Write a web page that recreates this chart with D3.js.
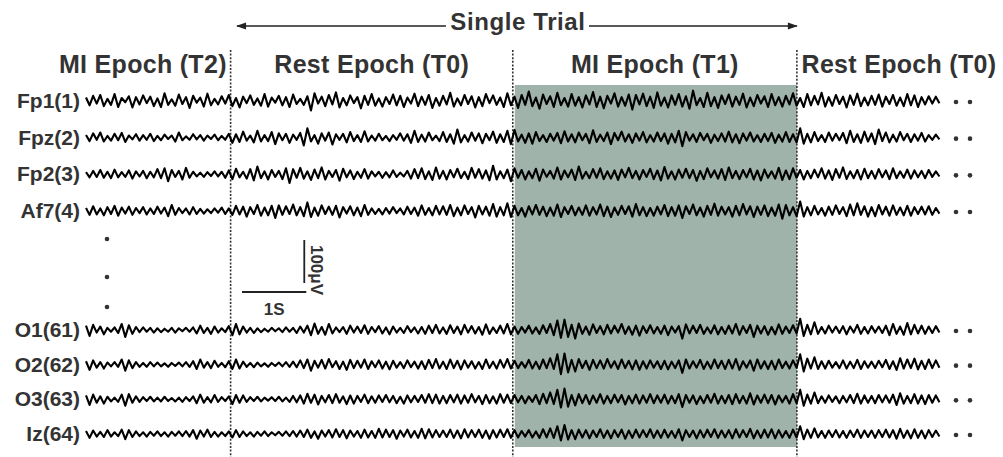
<!DOCTYPE html>
<html>
<head>
<meta charset="utf-8">
<script src="https://cdn.jsdelivr.net/npm/d3@7"></script>
<style>
  body { margin: 0; background: #fff; }
  svg { display: block; font-family: "Liberation Sans", Arial, sans-serif; }
</style>
</head>
<body>
<div id="chart"></div>
<script>
// channel names, top group and bottom group
const topChannels = ['Fp1(1)', 'Fpz(2)', 'Fp2(3)', 'Af7(4)'];
const bottomChannels = ['O1(61)', 'O2(62)', 'O3(63)', 'Iz(64)'];

// epochs: label and [start, end] in seconds
const epochLabels = ['MI Epoch (T2)', 'Rest Epoch (T0)', 'MI Epoch (T1)', 'Rest Epoch (T0)'];
const epochBounds = [[-0.48, 2.25], [2.25, 6.64], [6.64, 11.06], [11.06, 14.26]];
const shadedEpoch = 2;
const trialSpan = [2.35, 11.06];

const FS = 18; // samples per second (as drawn)

// EEG traces in µV (20 samples per row)
const fp1 = [
  8,-10,12,-6,14,-12,5,-9,16,-14,7,-3,11,-15,9,-8,13,-5,10,-12,
  6,-14,18,-9,4,-11,15,-7,9,-16,12,-4,8,-13,17,-10,5,-8,11,-6,
  14,-12,7,-15,10,-5,13,-9,6,-11,16,-13,8,-4,12,-10,9,-14,15,-7,
  5,-9,11,-22,18,-6,10,-12,14,-8,20,-15,7,-10,13,-5,9,-17,12,-9,
  16,-11,6,-13,9,-7,15,-10,12,-14,8,-6,17,-12,10,-9,14,-16,7,-11,
  12,-8,19,-13,6,-10,14,-7,11,-15,9,-12,16,-5,13,-9,8,-14,18,-10,
  10,-16,14,-9,22,-12,8,-18,15,-7,11,-14,19,-10,7,-13,16,-11,9,-15,
  13,-8,21,-14,10,-17,12,-6,18,-13,9,-11,15,-20,14,-8,17,-12,10,-16,
  20,-11,8,-15,13,-9,16,-13,11,-18,24,-10,7,-14,19,-12,9,-16,13,-7,
  15,-13,10,-9,17,-15,8,-12,14,-6,11,-14,16,-10,9,-13,12,-8,18,-11,
  7,-14,16,-10,12,-8,19,-13,9,-11,14,-7,10,-15,13,-9,17,-12,8,-10,
  12,-9,15,-13,10,-7,14,-11,8,-12,16,-10,13,-14,9,-8,11,-6,10,-5
];
const fpz = [
  6,-8,10,-5,12,-9,4,-7,9,-6,11,-10,5,-4,8,-7,6,-5,9,-8,
  4,-6,7,-3,5,-9,12,-6,3,-5,8,-4,6,-7,5,-3,7,-6,4,-5,
  9,-12,8,-10,14,-7,5,-11,16,-9,6,-8,13,-15,10,-6,9,-12,7,-5,
  11,-18,22,-9,6,-14,10,-7,12,-16,8,-5,9,-11,13,-8,6,-10,15,-9,
  5,-7,9,-6,4,-8,6,-5,10,-7,8,-12,16,-10,7,-9,12,-6,5,-8,
  13,-10,8,-14,19,-11,6,-9,12,-7,10,-13,9,-6,14,-12,8,-10,16,-15,
  18,-9,7,-12,10,-14,13,-8,6,-10,9,-7,11,-13,15,-9,8,-11,12,-6,
  9,-13,17,-10,7,-8,12,-15,11,-6,14,-9,8,-12,10,-7,13,-11,6,-9,
  12,-8,10,-14,9,-11,16,-20,13,-7,8,-10,11,-6,9,-12,7,-8,10,-9,
  14,-11,8,-13,10,-7,12,-9,6,-10,9,-8,11,-12,7,-9,13,-10,8,-11,
  22,-14,9,-11,13,-8,6,-10,12,-7,9,-6,11,-13,16,-10,8,-12,14,-9,
  10,-15,19,-8,12,-11,7,-9,13,-6,9,-10,8,-7,11,-9,6,-5,7,-4
];
const fp2 = [
  5,-7,8,-6,10,-8,6,-9,11,-7,5,-6,9,-10,7,-5,8,-9,6,-7,
  12,-9,14,-16,10,-6,8,-12,15,-8,6,-5,4,-6,5,-4,7,-5,6,-8,
  9,-11,13,-7,6,-10,12,-14,18,-9,7,-12,10,-6,8,-11,14,-20,12,-8,
  15,-10,7,-13,11,-9,16,-12,8,-6,10,-15,13,-7,9,-11,6,-8,12,-10,
  7,-5,6,-8,5,-7,9,-6,4,-5,8,-10,12,-9,14,-11,7,-13,16,-10,
  8,-12,10,-7,13,-9,6,-11,15,-8,12,-10,9,-14,20,-12,7,-9,11,-16,
  14,-8,10,-12,7,-9,13,-15,11,-6,8,-10,16,-12,9,-7,11,-13,18,-10,
  6,-9,12,-8,14,-11,7,-10,9,-13,11,-7,15,-9,8,-12,10,-6,13,-11,
  9,-14,17,-10,7,-12,11,-8,13,-9,10,-15,8,-11,14,-7,9,-10,12,-13,
  16,-9,8,-11,10,-7,13,-12,9,-14,11,-8,7,-10,15,-13,9,-11,14,-8,
  10,-12,8,-9,11,-7,14,-10,9,-13,12,-8,16,-11,7,-9,10,-12,13,-9,
  8,-10,12,-7,9,-11,14,-9,7,-8,11,-10,9,-7,8,-9,10,-6,7,-5
];
const af7 = [
  7,-9,11,-8,6,-10,9,-7,12,-11,8,-6,10,-9,7,-5,9,-8,6,-7,
  10,-6,8,-12,14,-9,7,-5,6,-8,9,-7,5,-6,4,-5,6,-4,8,-7,
  6,-9,12,-8,10,-13,9,-7,14,-11,8,-10,12,-16,13,-9,11,-7,15,-10,
  9,-12,20,-14,8,-11,13,-7,10,-9,12,-15,9,-6,11,-10,8,-12,14,-9,
  6,-7,5,-8,7,-6,9,-5,6,-8,10,-7,8,-11,13,-9,7,-10,12,-8,
  11,-9,14,-12,8,-10,13,-7,9,-15,12,-8,10,-11,16,-13,9,-10,18,-14,
  12,-10,7,-13,11,-8,14,-9,10,-12,8,-11,15,-14,9,-7,12,-10,8,-9,
  13,-11,9,-8,15,-12,10,-14,8,-9,12,-7,11,-13,16,-10,9,-12,7,-11,
  10,-8,14,-12,9,-11,13,-16,11,-7,15,-10,8,-13,12,-9,17,-11,10,-8,
  9,-13,12,-10,16,-8,11,-14,10,-9,13,-12,8,-11,15,-18,14,-10,9,-12,
  22,-13,9,-10,12,-8,7,-11,10,-9,13,-7,9,-12,15,-10,18,-9,11,-13,
  9,-12,14,-8,10,-11,13,-9,8,-10,12,-11,9,-7,10,-8,11,-9,7,-6
];
const o1 = [
  10,-14,12,-6,8,-10,5,-4,6,-7,14,-16,11,-9,7,-5,6,-4,5,-6,
  4,-5,3,-4,5,-6,4,-3,5,-4,6,-8,10,-7,5,-9,8,-6,4,-5,
  9,-12,14,-10,8,-6,5,-7,4,-5,3,-4,5,-3,4,-5,6,-4,5,-7,
  8,-6,10,-12,15,-9,7,-11,14,-8,6,-5,7,-9,10,-6,8,-7,11,-9,
  7,-5,9,-8,6,-10,8,-6,5,-7,9,-5,6,-8,7,-9,10,-7,12,-8,
  6,-9,11,-7,8,-10,12,-6,9,-8,7,-11,13,-9,6,-7,10,-8,14,-10,
  8,-9,7,-6,10,-8,6,-9,11,-7,14,-12,22,-18,24,-16,12,-20,15,-9,
  8,-11,13,-7,9,-10,12,-8,10,-6,14,-9,8,-11,10,-13,9,-7,11,-8,
  7,-9,10,-12,8,-6,9,-20,13,-8,10,-7,12,-9,6,-8,11,-10,7,-9,
  10,-8,14,-11,9,-7,12,-16,10,-8,9,-11,7,-10,13,-9,8,-7,11,-8,
  26,-14,12,-10,18,-9,7,-8,10,-6,8,-7,9,-10,8,-6,12,-9,7,-8,
  9,-6,8,-7,10,-12,14,-9,8,-11,16,-10,12,-8,10,-9,8,-7,9,-6
];
const o2 = [
  8,-12,10,-7,6,-9,5,-4,6,-5,12,-14,10,-8,6,-5,4,-5,6,-4,
  5,-4,3,-5,4,-3,5,-4,6,-5,8,-10,12,-7,6,-8,9,-5,4,-6,
  8,-10,12,-9,7,-5,4,-6,5,-4,3,-5,4,-3,5,-4,6,-5,7,-6,
  10,-8,12,-14,9,-7,11,-9,13,-6,8,-10,7,-12,11,-8,9,-7,12,-10,
  8,-6,10,-9,7,-11,9,-7,6,-8,10,-6,7,-9,8,-10,11,-8,13,-9,
  7,-10,12,-8,9,-11,10,-7,8,-9,6,-10,12,-8,7,-9,11,-7,13,-9,
  9,-8,6,-7,11,-9,7,-10,12,-8,15,-10,24,-22,26,-18,11,-16,13,-8,
  9,-12,11,-8,10,-9,13,-7,8,-10,12,-8,9,-11,10,-12,8,-9,10,-7,
  8,-10,9,-11,7,-8,10,-19,12,-9,8,-7,11,-10,7,-9,12,-8,9,-10,
  11,-9,13,-12,8,-7,10,-14,12,-9,8,-10,9,-11,12,-8,7,-9,10,-7,
  24,-16,14,-9,17,-10,8,-9,9,-7,6,-8,10,-9,7,-8,11,-10,8,-7,
  7,-8,9,-6,11,-10,8,-12,15,-9,12,-8,14,-11,9,-10,12,-8,10,-7
];
const o3 = [
  9,-13,11,-8,7,-10,6,-5,4,-6,11,-15,12,-8,7,-6,5,-4,6,-5,
  4,-5,6,-4,3,-5,4,-6,5,-4,7,-9,11,-8,5,-7,10,-6,5,-4,
  7,-11,10,-8,9,-6,5,-4,6,-5,4,-3,5,-4,6,-5,4,-6,8,-7,
  9,-10,13,-8,11,-12,8,-7,10,-9,12,-8,7,-11,9,-10,8,-6,11,-9,
  7,-8,9,-6,10,-7,8,-9,6,-10,9,-7,8,-6,10,-8,12,-9,11,-10,
  8,-9,10,-7,11,-10,9,-8,12,-7,8,-11,10,-9,7,-10,12,-8,11,-9,
  10,-7,8,-9,7,-6,10,-11,13,-9,16,-11,22,-19,25,-17,10,-14,12,-9,
  10,-11,9,-8,12,-10,8,-9,11,-7,10,-12,8,-9,11,-10,9,-8,12,-9,
  9,-8,11,-10,8,-9,12,-18,10,-8,9,-11,7,-9,10,-8,13,-10,8,-9,
  10,-11,12,-9,8,-10,14,-12,9,-8,11,-9,10,-12,9,-7,8,-10,12,-9,
  22,-15,11,-10,16,-9,7,-8,9,-6,7,-9,8,-7,10,-9,13,-10,9,-8,
  8,-9,10,-7,9,-8,11,-13,14,-10,8,-9,12,-10,9,-11,10,-8,9,-7
];
const iz = [
  7,-9,8,-6,5,-7,9,-6,4,-5,10,-12,9,-7,6,-5,4,-6,5,-4,
  6,-5,4,-6,5,-4,6,-5,7,-6,9,-11,8,-6,10,-7,5,-6,4,-5,
  6,-8,9,-7,6,-5,4,-6,5,-4,6,-5,4,-3,5,-4,6,-5,7,-6,
  8,-7,10,-9,6,-11,8,-6,9,-8,11,-7,9,-10,8,-6,7,-9,10,-8,
  7,-9,12,-8,10,-7,9,-11,8,-6,10,-8,7,-9,12,-10,11,-8,9,-7,
  8,-7,10,-9,8,-10,11,-8,9,-7,10,-9,8,-11,9,-8,10,-7,11,-9,
  9,-8,7,-6,9,-8,6,-9,11,-8,13,-9,18,-15,21,-13,9,-12,10,-8,
  9,-10,8,-7,11,-9,8,-10,9,-7,10,-11,8,-9,10,-8,9,-7,11,-9,
  8,-9,10,-8,7,-9,11,-15,9,-7,8,-10,9,-8,10,-7,11,-9,8,-8,
  9,-10,11,-8,9,-7,12,-10,8,-9,10,-8,11,-10,9,-8,7,-9,10,-8,
  18,-12,10,-9,13,-8,7,-9,8,-7,9,-8,7,-9,8,-7,10,-9,8,-7,
  8,-9,9,-7,10,-8,9,-11,12,-9,8,-10,11,-9,8,-10,9,-7,8,-6
];
const topSignals = [fp1, fpz, fp2, af7];
const bottomSignals = [o1, o2, o3, iz];

const scaleBarSec = 1;
const scaleBarMicroV = 100;

const W = 1003, H = 457;
const ink = '#333';

const svg = d3.select('#chart').append('svg')
  .attr('width', W).attr('height', H);

const duration = fp1.length / FS;
const x = d3.scaleLinear().domain([0, duration]).range([86, 943]);
// µV -> pixel offset from the channel baseline
const amp = d3.scaleLinear().domain([0, scaleBarMicroV]).range([0, -43]);

const yTop = d3.scalePoint().domain(topChannels).range([101, 211]);
const yBottom = d3.scalePoint().domain(bottomChannels).range([330, 434]);

// shaded MI epoch
const se = epochBounds[shadedEpoch];
svg.append('rect')
  .attr('x', x(se[0]) + 2)
  .attr('y', 85)
  .attr('width', x(se[1]) - x(se[0]) - 2)
  .attr('height', 362)
  .attr('fill', '#9fb3ab');

// epoch boundary dashed lines
svg.selectAll('line.bound')
  .data(epochBounds.slice(1).map(d => d[0]))
  .enter().append('line')
  .attr('class', 'bound')
  .attr('x1', d => x(d)).attr('x2', d => x(d))
  .attr('y1', 50).attr('y2', 457)
  .attr('stroke', '#333')
  .attr('stroke-width', 1.6)
  .attr('stroke-dasharray', '2,1.6');

// epoch labels
svg.selectAll('text.epoch')
  .data(epochLabels)
  .enter().append('text')
  .attr('class', 'epoch')
  .attr('x', (d, i) => {
    const b = epochBounds[i];
    return (x(b[0]) + Math.min(x(b[1]), W - 2)) / 2;
  })
  .attr('y', 73)
  .attr('text-anchor', 'middle')
  .attr('font-size', 25)
  .attr('font-weight', 'bold')
  .attr('letter-spacing', 0.3)
  .attr('fill', ink)
  .text(d => d);

// Single Trial title with arrows
const tx = (x(trialSpan[0]) + x(trialSpan[1])) / 2;
svg.append('text')
  .attr('x', tx + 1).attr('y', 30)
  .attr('text-anchor', 'middle')
  .attr('font-size', 24)
  .attr('font-weight', 'bold')
  .attr('letter-spacing', 0.6)
  .attr('fill', ink)
  .text('Single Trial');
const ay = 26;
svg.append('line')
  .attr('x1', x(trialSpan[0])).attr('x2', tx - 71)
  .attr('y1', ay).attr('y2', ay)
  .attr('stroke', '#222').attr('stroke-width', 1.5);
svg.append('line')
  .attr('x1', tx + 72).attr('x2', x(trialSpan[1]))
  .attr('y1', ay).attr('y2', ay)
  .attr('stroke', '#222').attr('stroke-width', 1.5);
const ax0 = x(trialSpan[0]), ax1 = x(trialSpan[1]);
svg.append('path')
  .attr('d', `M${ax0 - 1},${ay} L${ax0 + 9},${ay - 3.5} L${ax0 + 9},${ay + 3.5} Z`)
  .attr('fill', '#222');
svg.append('path')
  .attr('d', `M${ax1 + 1},${ay} L${ax1 - 9},${ay - 3.5} L${ax1 - 9},${ay + 3.5} Z`)
  .attr('fill', '#222');

// traces
const channels = topChannels.map((c, i) => ({ name: c, y0: yTop(c), values: topSignals[i] }))
  .concat(bottomChannels.map((c, i) => ({ name: c, y0: yBottom(c), values: bottomSignals[i] })));

const g = svg.selectAll('g.ch')
  .data(channels)
  .enter().append('g')
  .attr('class', 'ch')
  .attr('transform', d => 'translate(0,' + d.y0 + ')');

g.append('path')
  .attr('d', d => d3.line()
    .x((v, i) => x(i / FS))
    .y(v => amp(v))(d.values))
  .attr('fill', 'none')
  .attr('stroke', '#000')
  .attr('stroke-width', 2.1)
  .attr('stroke-linejoin', 'round');

g.append('text')
  .attr('x', 80)
  .attr('y', 7)
  .attr('text-anchor', 'end')
  .attr('font-size', 21)
  .attr('font-weight', 'bold')
  .attr('fill', ink)
  .text(d => d.name);

// trailing continuation dots
g.selectAll('circle')
  .data([956, 970])
  .enter().append('circle')
  .attr('cx', d => d).attr('cy', 1)
  .attr('r', 2.3)
  .attr('fill', ink);

// vertical ellipsis between channel groups
svg.selectAll('circle.vdot')
  .data([239, 277, 307])
  .enter().append('circle')
  .attr('class', 'vdot')
  .attr('cx', 107).attr('cy', d => d)
  .attr('r', 2.3)
  .attr('fill', ink);

// scale bar
const sbx = 242, sby = 292;
const sbx1 = sbx + x(scaleBarSec) - x(0);
svg.append('line')
  .attr('x1', sbx).attr('x2', sbx1)
  .attr('y1', sby).attr('y2', sby)
  .attr('stroke', '#222').attr('stroke-width', 1.8);
svg.append('line')
  .attr('x1', sbx1 - 2).attr('x2', sbx1 - 2)
  .attr('y1', sby - 9).attr('y2', sby - 9 + amp(scaleBarMicroV))
  .attr('stroke', '#222').attr('stroke-width', 1.8);
svg.append('text')
  .attr('x', (sbx + sbx1) / 2).attr('y', 315)
  .attr('text-anchor', 'middle')
  .attr('font-size', 17)
  .attr('font-weight', 'bold')
  .attr('fill', ink)
  .text(scaleBarSec + 'S');
svg.append('text')
  .attr('transform', `translate(${sbx1 + 5},270) rotate(90)`)
  .attr('text-anchor', 'middle')
  .attr('font-size', 17)
  .attr('font-weight', 'bold')
  .attr('fill', ink)
  .text(scaleBarMicroV + 'μV');
</script>
</body>
</html>
